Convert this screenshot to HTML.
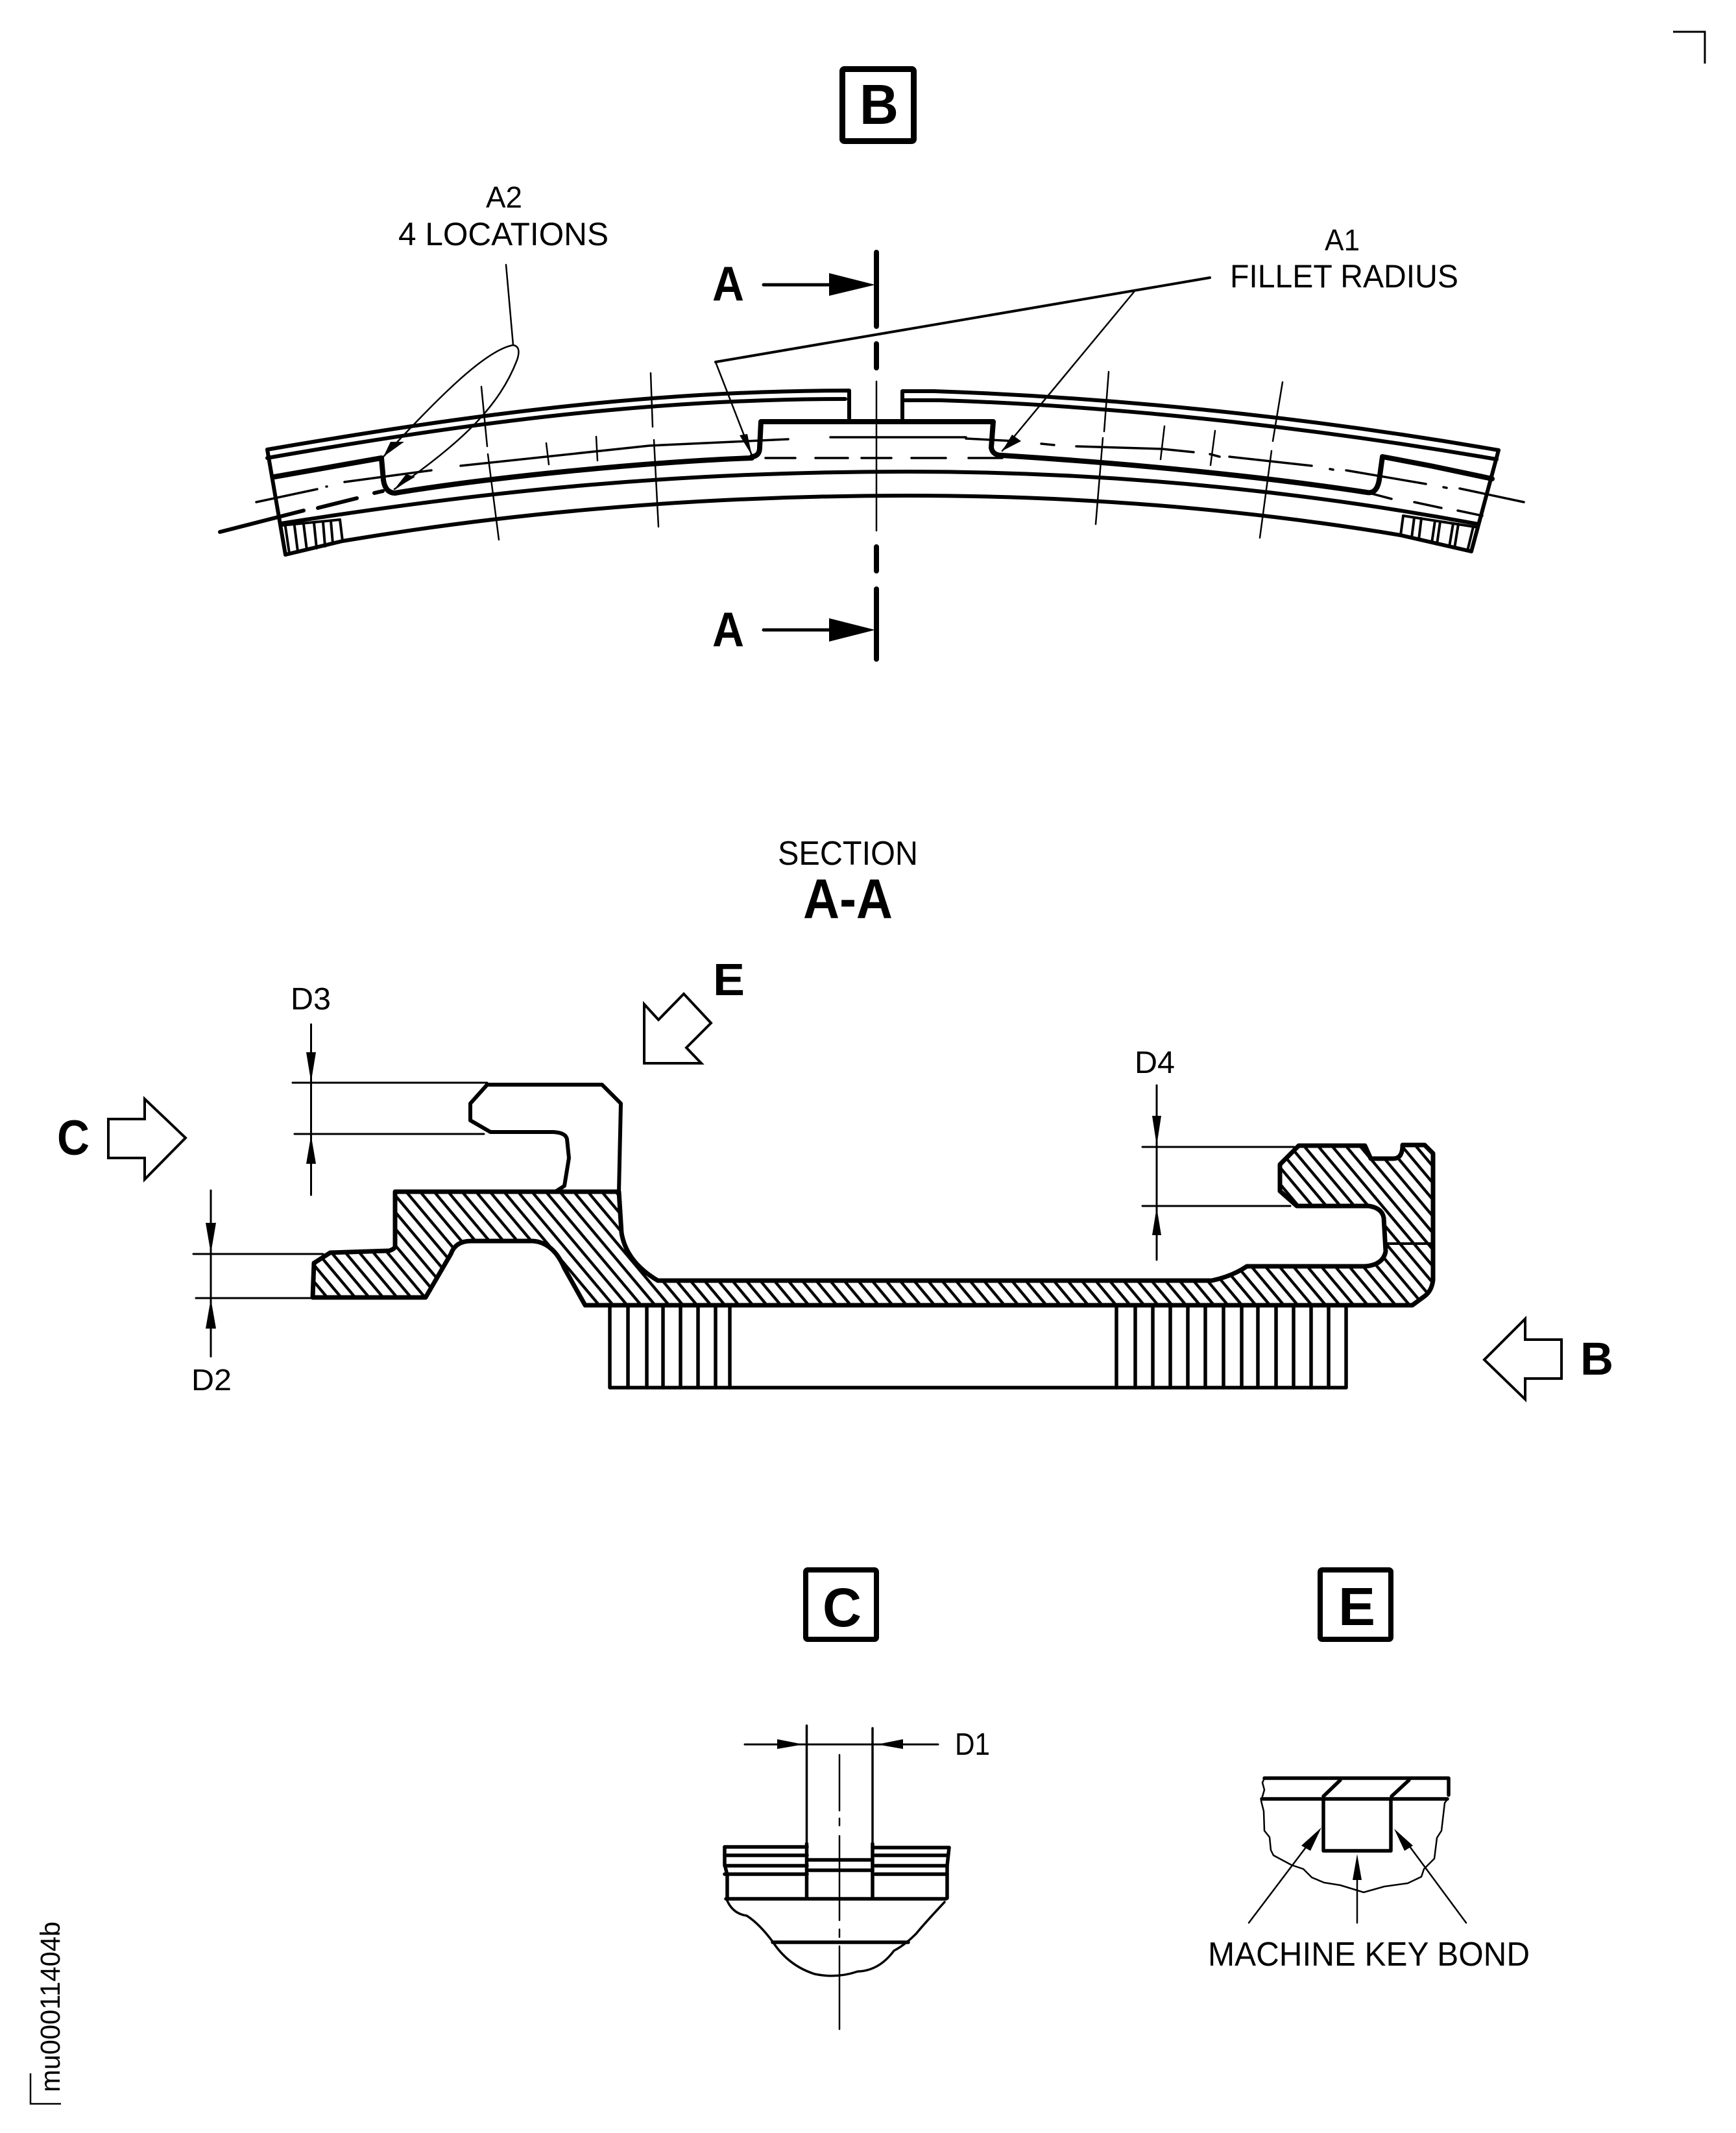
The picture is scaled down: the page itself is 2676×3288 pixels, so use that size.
<!DOCTYPE html>
<html><head><meta charset="utf-8"><style>
html,body{margin:0;padding:0;background:#fff}
svg{display:block}
text{font-family:"Liberation Sans",sans-serif;fill:#000}
.b{font-weight:bold}
.k{fill:none;stroke:#000;stroke-linejoin:round;stroke-linecap:round}
</style></head><body>
<svg xmlns="http://www.w3.org/2000/svg" width="2676" height="3288" viewBox="0 0 2676 3288">
<defs><pattern id="h" width="16.5" height="16.5" patternUnits="userSpaceOnUse" patternTransform="rotate(50)"><rect width="16.5" height="16.5" fill="#fff"/><rect y="6" width="16.5" height="4.4" fill="#000"/></pattern></defs>
<rect width="2676" height="3288" fill="#fff"/>

<!-- corners and id -->
<path d="M2579 49H2628V98" fill="none" stroke="#000" stroke-width="3"/>
<path d="M47 3196V3243H94" fill="none" stroke="#000" stroke-width="2.5"/>
<text transform="translate(92 3225) rotate(-90)" font-size="43" textLength="263" lengthAdjust="spacingAndGlyphs">mu00011404b</text>

<!-- title boxes -->
<rect x="1298.500" y="106.500" width="110" height="111" rx="3" fill="none" stroke="#000" stroke-width="9"/>
<text class="b" x="1325" y="191" font-size="87" textLength="60" lengthAdjust="spacingAndGlyphs">B</text>
<rect x="1242" y="2420" width="109" height="107" rx="3" fill="none" stroke="#000" stroke-width="8"/>
<path d="M1240 2421H1353M1240 2526H1353" stroke="#000" stroke-width="6" fill="none"/>
<text class="b" x="1268" y="2507" font-size="84" textLength="60" lengthAdjust="spacingAndGlyphs">C</text>
<rect x="2035" y="2420" width="109" height="107" rx="3" fill="none" stroke="#000" stroke-width="8"/>
<path d="M2033 2421H2146M2033 2526H2146" stroke="#000" stroke-width="6" fill="none"/>
<text class="b" x="2063" y="2505" font-size="83" textLength="57" lengthAdjust="spacingAndGlyphs">E</text>

<!-- top view labels -->
<text x="749" y="320" font-size="46" textLength="56" lengthAdjust="spacingAndGlyphs">A2</text>
<text x="614" y="378" font-size="50" textLength="324" lengthAdjust="spacingAndGlyphs">4 LOCATIONS</text>
<text x="2042" y="386" font-size="46" textLength="54" lengthAdjust="spacingAndGlyphs">A1</text>
<text x="1896" y="443" font-size="50" textLength="352" lengthAdjust="spacingAndGlyphs">FILLET RADIUS</text>

<!-- section line A-A -->
<g class="k" stroke-width="8">
<path d="M1351 389V503M1351 530V567M1351 843V880M1351 908V1016"/>
</g>
<path d="M1351 588V818" class="k" stroke-width="2.5"/>
<g class="k" stroke-width="5"><path d="M1177 439H1282M1177 971H1282"/></g>
<path d="M1278 421L1349 439L1278 456Z M1278 953L1349 971L1278 989Z"/>
<text class="b" x="1098" y="463" font-size="75" textLength="49" lengthAdjust="spacingAndGlyphs">A</text>
<text class="b" x="1098" y="996" font-size="75" textLength="49" lengthAdjust="spacingAndGlyphs">A</text>

<!-- top view geometry -->
<g class="k" stroke-width="6">
<path d="M412 693C720 640 1000 602 1309 602V645"/>
<path d="M412 706C720 652 1000 615 1303 615"/>
<path d="M1391 645V603H1440C1700 612 2000 640 2310 694"/>
<path d="M1395 617H1450C1700 625 2000 655 2307 708"/>
<path d="M412 693L440 855"/>
<path d="M2310 694L2268 850"/>
</g>
<g class="k" stroke-width="8">
<path d="M1159 704Q1171 703 1171 690L1173 650H1531L1528 690Q1530 702 1545 702"/>
<path d="M1159 706C1000 712 760 735 609 760"/>
<path d="M609 760Q594 760 591 740L588 706L423 735"/>
<path d="M1545 702C1750 715 1950 735 2107 759Q2122 762 2126 740L2131 704L2205 718L2300 738"/>
</g>
<g class="k" stroke-width="6">
<path d="M433 807C760 755 1050 727 1400 727C1750 727 2050 765 2279 808"/>
<path d="M440 855L528 834C760 795 1050 764 1400 764C1700 764 1950 790 2159 825L2268 850"/>
</g>
<g class="k" stroke-width="4">
<path d="M433 810L524 801M2163 795L2279 813"/>
<path d="M440 812L446 853M454 811L459 850M468 808L473 848M484 806L488 845M498 805L501 842M510 803L513 838M524 801L528 834"/>
<path d="M2163 795L2159 825M2180 798L2176 829M2191 799L2187 832M2212 803L2207 837M2220 804L2215 839M2240 807L2234 843M2248 808L2242 845M2271 812L2262 849"/>
</g>
<g class="k" stroke-width="3.500">
<path d="M395 774L489 754M503 750L504 750M531 743L665 725M710 718L1001 687L1215 677M1280 674H1489"/>
<path d="M1489 676L1565 680M1605 684L1625 686M1659 688L1791 692L1840 697M1865 700L1880 704M1895 704L2022 718M2050 723L2055 724M2075 725L2198 746M2225 751L2230 752M2250 753L2349 774"/>
<path d="M1180 706H1226M1257 706H1307M1328 706H1374M1405 706H1458M1493 706H1545"/>
<path d="M2107 759L2145 769M2180 774L2222 783M2247 787L2285 795"/>
</g>
<g class="k" stroke-width="6">
<path d="M339 820L468 787M490 783L550 768M577 760L590 757"/>
</g>
<g class="k" stroke-width="2.500">
<path d="M742 596L751 688M752 700L769 832"/>
<path d="M1003 575L1006 658M1008 678L1015 812"/>
<path d="M842 683L846 716M919 673L921 710"/>
<path d="M1709 573L1702 665M1700 675L1689 808"/>
<path d="M1977 589L1962 680M1960 695L1942 829"/>
<path d="M1795 657L1789 708M1873 664L1866 717"/>
</g>
<!-- leaders -->
<g class="k" stroke-width="2.500">
<path d="M780 408L791 532"/>
<path d="M791 532Q804 534 797 555C770 625 715 680 608 754"/>
<path d="M791 532C745 540 665 625 591 704"/>
<path d="M1103 558L1159 702"/>
<path d="M1748 450L1545 695"/>
</g>
<path d="M1103 558L1865 428" class="k" stroke-width="4"/>
<path d="M591 704L602 681L623 681Z M608 754L626 731L640 735Z M1159 702L1140 671L1152 669Z M1545 695L1560 670L1574 680Z"/>

<!-- section A-A text -->
<text x="1199" y="1333" font-size="52" textLength="216" lengthAdjust="spacingAndGlyphs">SECTION</text>
<text class="b" x="1238" y="1415" font-size="86" textLength="138" lengthAdjust="spacingAndGlyphs">A-A</text>

<!-- section main -->
<path d="M609 1837H954L958 1900Q965 1945 1014 1974H1868Q1900 1967 1922 1952H2104Q2132 1950 2136 1929L2133 1877Q2130 1862 2110 1859H1999L1973 1836V1795L2002 1766H2104L2113 1786H2148Q2162 1786 2162 1765H2196L2209 1778V1973Q2207 1990 2196 1998L2177 2012H902L870 1955Q853 1915 821 1913H726Q702 1913 695 1933L656 2000H482L484 1947L509 1931L600 1928Q609 1925 609 1921Z" fill="url(#h)" stroke="#000" stroke-width="7" stroke-linejoin="round"/>
<path d="M2136 1917H2209" class="k" stroke-width="4"/>
<path d="M751 1672H928L957 1701L954 1837M751 1672L725 1701V1727L756 1745H853Q872 1746 874 1756L877 1785L870 1828L856 1837" class="k" stroke-width="6"/>
<!-- teeth -->
<g class="k" stroke-width="5.500">
<path d="M940 2014V2139H2075V2012"/>
<path d="M968 2014V2139M997 2014V2139M1022 2014V2139M1049 2014V2139M1076 2014V2139M1103 2014V2139M1125 2014V2139"/>
<path d="M1721 2012V2139M1750 2012V2139M1777 2012V2139M1804 2012V2139M1831 2012V2139M1858 2012V2139M1886 2012V2139M1914 2012V2139M1939 2012V2139M1967 2012V2139M1994 2012V2139M2021 2012V2139M2048 2012V2139"/>
</g>
<!-- view arrows -->
<path d="M167 1725H223V1694L286 1754L223 1818V1785H167Z" fill="none" stroke="#000" stroke-width="4"/>
<text class="b" x="88" y="1780" font-size="76" textLength="50" lengthAdjust="spacingAndGlyphs">C</text>
<path d="M993 1548L1015 1572L1054 1532L1096 1577L1058 1615L1081 1639H993Z" fill="none" stroke="#000" stroke-width="4"/>
<text class="b" x="1099" y="1534" font-size="70" textLength="49" lengthAdjust="spacingAndGlyphs">E</text>
<path d="M2407 2065H2351V2033L2288 2096L2351 2157V2125H2407Z" fill="none" stroke="#000" stroke-width="4"/>
<text class="b" x="2436" y="2119" font-size="71" textLength="51" lengthAdjust="spacingAndGlyphs">B</text>

<!-- dims -->
<text x="448" y="1556" font-size="48" textLength="62" lengthAdjust="spacingAndGlyphs">D3</text>
<path d="M479.500 1579V1842M451 1669H751M454 1748H746" class="k" stroke-width="3"/>
<path d="M472 1622H487L479.500 1668Z M472 1794H487L479.500 1750Z"/>
<text x="295" y="2143" font-size="46" textLength="62" lengthAdjust="spacingAndGlyphs">D2</text>
<path d="M325 1835V2091M298 1933H498M302 2001H481" class="k" stroke-width="3"/>
<path d="M317 1885H333L325 1932Z M317 2048H333L325 2002Z"/>
<text x="1749" y="1654" font-size="48" textLength="62" lengthAdjust="spacingAndGlyphs">D4</text>
<path d="M1783 1673V1942M1761 1768H1995M1761 1859H1989" class="k" stroke-width="3"/>
<path d="M1776 1720H1790L1783 1766Z M1776 1904H1790L1783 1861Z"/>

<!-- View C -->
<path d="M1243.500 2660V2842M1345 2664V2842" class="k" stroke-width="3.500"/>
<path d="M1148 2689H1238M1238 2689H1352M1352 2689H1446" class="k" stroke-width="3"/>
<path d="M1198 2681L1238.500 2689L1198 2696Z M1392 2681L1352 2689L1392 2696Z"/>
<text x="1472" y="2705" font-size="48" textLength="54" lengthAdjust="spacingAndGlyphs">D1</text>
<path d="M1294 2705V2791M1294 2803V2814M1294 2830V2960M1294 2974V2986M1294 3000V3128" class="k" stroke-width="2.500"/>
<g class="k" stroke-width="5.500">
<path d="M1117 2847H1244M1117 2860H1244M1117 2876H1244M1117 2889H1244"/>
<path d="M1345 2848H1463M1349 2860H1461M1349 2876H1460M1349 2889H1460"/>
<path d="M1246 2867H1344M1246 2883H1344"/>
<path d="M1119 2927H1458"/>
<path d="M1117 2847V2874L1121 2890V2926M1463 2848L1460 2876V2926"/>
<path d="M1243.500 2842V2926M1345 2842V2926"/>
<path d="M1191 2994H1400"/>
</g>
<path d="M1121 2930Q1130 2950 1151 2953Q1170 2965 1191 2993Q1215 3030 1256 3043Q1290 3050 1322 3039Q1355 3038 1378 3007Q1395 2998 1412 2981Q1425 2965 1456 2932" class="k" stroke-width="3.500"/>

<!-- View E -->
<g class="k" stroke-width="5.500">
<path d="M1949 2741H2233V2767M1945 2773H2231"/>
<path d="M2040 2773V2853H2144V2773"/>
<path d="M2040 2769L2066 2744M2145 2769L2172 2744"/>
</g>
<path d="M1949 2741L1946 2748L1949 2759L1944 2776L1948 2792L1949 2822L1957 2832L1959 2852L1963 2860L1991 2875L2009 2881L2022 2894L2041 2902L2066 2906L2102 2917L2134 2908L2170 2903L2191 2893L2195 2881L2211 2865L2215 2833L2222 2822L2227 2779L2231 2774" class="k" stroke-width="2.500"/>
<path d="M1925 2964L2015 2845M2092 2964V2890M2260 2964L2172 2845" class="k" stroke-width="2.500"/>
<path d="M2037 2817L2006 2845L2020 2853Z M2092 2858L2085 2898H2099Z M2149 2819L2178 2845L2165 2853Z"/>
<text x="1862" y="3030" font-size="52" textLength="496" lengthAdjust="spacingAndGlyphs">MACHINE KEY BOND</text>
</svg>
</body></html>
